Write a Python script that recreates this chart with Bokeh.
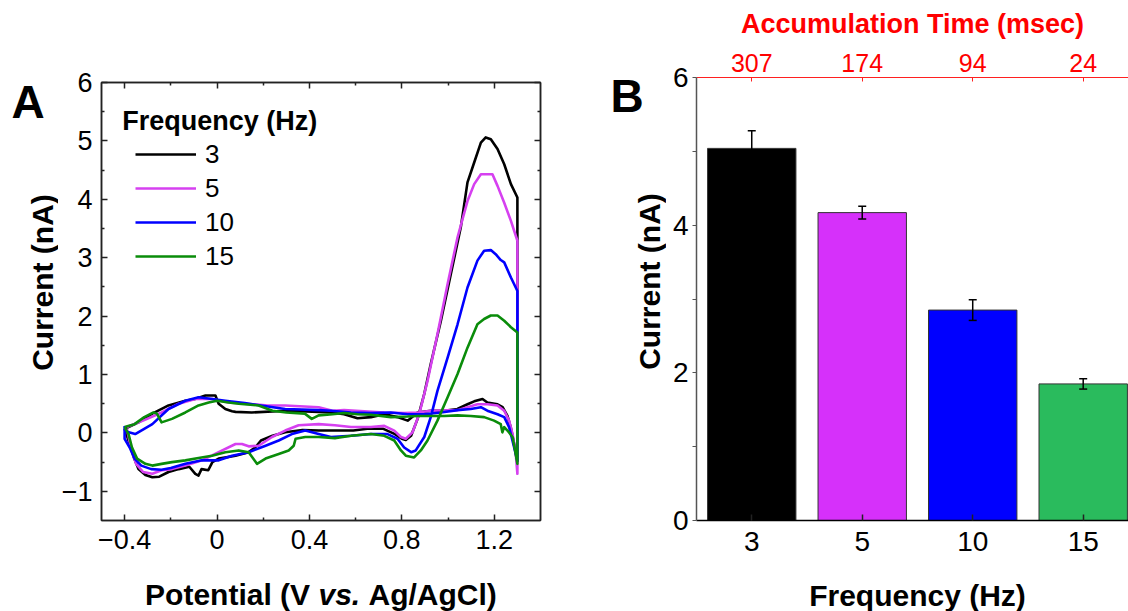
import math
from bokeh.plotting import figure
from bokeh.models import (Range1d, FixedTicker, LinearAxis, Legend, LegendItem,
                          ColumnDataSource, Whisker, TeeHead, CustomJSTickFormatter)
from bokeh.layouts import row, column
from bokeh.embed import file_html
from bokeh.resources import INLINE
from bokeh.core.properties import value

FONT = "Liberation Sans"

# ---------------- Panel A: cyclic voltammograms (potential V, current nA) ----------------
freq_labels = ["3", "5", "10", "15"]

black_v = [-0.40, -0.383, -0.36, -0.34, -0.31, -0.28, -0.25, -0.21, -0.166, -0.12,
           -0.094, -0.08, -0.067, -0.038, -0.02, 0.007, 0.08, 0.137, 0.165, 0.19,
           0.24, 0.295, 0.37, 0.44, 0.51, 0.59, 0.65, 0.72, 0.77, 0.80,
           0.817, 0.84, 0.868, 0.897, 0.925, 0.969, 1.012, 1.055, 1.084, 1.113,
           1.142, 1.163, 1.185, 1.214, 1.243, 1.272, 1.30, 1.30,
           1.286, 1.271, 1.257, 1.236, 1.214, 1.17, 1.149, 1.113, 1.084, 1.04,
           0.983, 0.925, 0.868, 0.825, 0.781, 0.724, 0.666, 0.608, 0.55, 0.493,
           0.44, 0.30, 0.15, 0.08, 0.065, 0.036, 0.007, -0.007, -0.05, -0.095,
           -0.137, -0.21, -0.28, -0.34, -0.383, -0.40]
black_i = [0.07, -0.13, -0.42, -0.62, -0.72, -0.76, -0.75, -0.67, -0.62, -0.58,
           -0.70, -0.73, -0.62, -0.64, -0.50, -0.44, -0.39, -0.33, -0.25, -0.13,
           -0.05, 0.01, 0.05, 0.04, 0.04, 0.04, 0.07, 0.07, -0.02, -0.10,
           -0.12, -0.05, 0.24, 0.67, 1.18, 1.92, 2.72, 3.52, 4.29, 4.63,
           4.97, 5.06, 5.03, 4.86, 4.60, 4.26, 4.03, -0.48,
           -0.19, 0.10, 0.29, 0.44, 0.49, 0.52, 0.58, 0.54, 0.49, 0.41,
           0.38, 0.38, 0.35, 0.21, 0.27, 0.32, 0.27, 0.25, 0.32, 0.35,
           0.36, 0.38, 0.35, 0.36, 0.37, 0.41, 0.50, 0.64, 0.64, 0.58,
           0.55, 0.47, 0.33, 0.18, 0.10, 0.07]

purple_v = [-0.39, -0.37, -0.35, -0.32, -0.28, -0.24, -0.195, -0.137, -0.065, 0.007,
            0.08, 0.108, 0.137, 0.18, 0.238, 0.295, 0.353, 0.44, 0.51, 0.58,
            0.666, 0.724, 0.767, 0.796, 0.817, 0.846, 0.875, 0.911, 0.954, 0.998,
            1.041, 1.084, 1.113, 1.142, 1.171, 1.192, 1.214, 1.243, 1.272, 1.30,
            1.30, 1.293, 1.279, 1.264, 1.243, 1.214, 1.171, 1.127, 1.084, 1.041,
            0.925, 0.868, 0.81, 0.724, 0.637, 0.55, 0.50, 0.44, 0.295, 0.22,
            0.12, 0.05, -0.02, -0.094, -0.166, -0.24, -0.32, -0.39]
purple_i = [0.07, -0.30, -0.53, -0.67, -0.70, -0.64, -0.62, -0.56, -0.47, -0.33,
            -0.19, -0.19, -0.23, -0.22, -0.07, 0.04, 0.13, 0.15, 0.13, 0.10,
            0.10, 0.12, 0.04, -0.07, -0.10, 0.01, 0.32, 0.89, 1.69, 2.55,
            3.35, 3.97, 4.26, 4.43, 4.43, 4.43, 4.23, 3.94, 3.63, 3.29,
            -0.70, -0.36, -0.02, 0.21, 0.38, 0.47, 0.49, 0.49, 0.44, 0.39,
            0.38, 0.35, 0.34, 0.35, 0.37, 0.39, 0.38, 0.44, 0.47, 0.47,
            0.50, 0.52, 0.58, 0.58, 0.50, 0.35, 0.21, 0.10]

blue_v = [-0.40, -0.40, -0.378, -0.357, -0.328, -0.285, -0.24, -0.20, -0.137, -0.065,
          0.007, 0.065, 0.137, 0.21, 0.267, 0.324, 0.382, 0.44, 0.493, 0.58,
          0.666, 0.738, 0.781, 0.81, 0.84, 0.86, 0.897, 0.925, 0.954, 0.998,
          1.041, 1.084, 1.127, 1.156, 1.185, 1.206, 1.228, 1.243, 1.272, 1.30,
          1.30, 1.286, 1.264, 1.243, 1.214, 1.17, 1.142, 1.098, 1.041, 0.969,
          0.897, 0.825, 0.752, 0.666, 0.58, 0.493, 0.44, 0.295, 0.19, 0.12,
          0.036, -0.02, -0.08, -0.137, -0.21, -0.28, -0.354, -0.39]
blue_i = [0.12, -0.10, -0.25, -0.44, -0.56, -0.62, -0.63, -0.60, -0.53, -0.47,
          -0.47, -0.39, -0.33, -0.22, -0.13, -0.02, 0.04, -0.02, -0.07, -0.05,
          -0.02, -0.02, -0.10, -0.25, -0.33, -0.30, -0.07, 0.27, 0.72, 1.29,
          1.86, 2.49, 2.95, 3.12, 3.13, 3.06, 2.96, 2.92, 2.66, 2.43,
          -0.48, -0.25, 0.10, 0.27, 0.32, 0.38, 0.44, 0.41, 0.39, 0.35,
          0.32, 0.32, 0.35, 0.34, 0.35, 0.38, 0.39, 0.41, 0.47, 0.51,
          0.55, 0.58, 0.61, 0.55, 0.41, 0.15, -0.02, 0.02]

green_v = [-0.40, -0.383, -0.368, -0.346, -0.31, -0.28, -0.24, -0.195, -0.137, -0.08,
           -0.022, 0.036, 0.094, 0.137, 0.173, 0.21, 0.267, 0.31, 0.332, 0.34,
           0.382, 0.44, 0.51, 0.58, 0.666, 0.724, 0.767, 0.796, 0.817, 0.853,
           0.882, 0.911, 0.954, 0.998, 1.041, 1.084, 1.127, 1.156, 1.185, 1.214,
           1.243, 1.272, 1.30, 1.30, 1.29, 1.279, 1.257, 1.243, 1.235, 1.228,
           1.199, 1.156, 1.098, 1.041, 0.983, 0.925, 0.868, 0.825, 0.752, 0.666,
           0.608, 0.55, 0.50, 0.44, 0.41, 0.38, 0.30, 0.24, 0.18, 0.094,
           0.05, 0.0, -0.036, -0.08, -0.137, -0.195, -0.24, -0.26, -0.275, -0.315,
           -0.357, -0.40]
green_i = [0.10, -0.02, -0.25, -0.44, -0.53, -0.56, -0.53, -0.50, -0.47, -0.43,
           -0.39, -0.33, -0.30, -0.33, -0.53, -0.44, -0.36, -0.30, -0.22, -0.10,
           -0.07, -0.07, -0.09, -0.05, -0.02, -0.05, -0.13, -0.30, -0.39, -0.42,
           -0.30, -0.13, 0.21, 0.61, 1.01, 1.46, 1.86, 1.95, 2.01, 2.01,
           1.92, 1.81, 1.72, -0.53, -0.30, -0.07, 0.04, 0.10, 0.01, 0.15,
           0.21, 0.27, 0.29, 0.30, 0.29, 0.29, 0.29, 0.28, 0.27, 0.31,
           0.32, 0.34, 0.32, 0.30, 0.24, 0.33, 0.35, 0.38, 0.47, 0.50,
           0.52, 0.55, 0.52, 0.47, 0.35, 0.24, 0.18, 0.33, 0.35, 0.27,
           0.15, 0.10]

line_colors = ["#000000", "#D640F0", "#0000FF", "#0A8C0A"]

# ---------------- Panel B: bar chart ----------------
bar_pos = [1, 2, 3, 4]
bar_freq_labels = ["3", "5", "10", "15"]
accum_labels = ["307", "174", "94", "24"]
bar_current = [5.04, 4.17, 2.85, 1.85]
bar_err = [0.24, 0.085, 0.14, 0.07]
bar_colors = ["#000000", "#D630FA", "#0000FF", "#2ABB5D"]

TOP_H = 566   # height of the plotting row
BOT_H = 45    # strip holding the x-axis titles


def blank(w, h):
    f = figure(width=w, height=h, x_range=Range1d(0, w), y_range=Range1d(0, h),
               output_backend="svg", toolbar_location=None, frame_align=False,
               x_axis_location=None, y_axis_location=None,
               min_border_left=0, min_border_right=0, min_border_top=0, min_border_bottom=0)
    f.grid.visible = False
    f.outline_line_color = None
    f.background_fill_color = "white"
    f.border_fill_color = "white"
    return f


def put_text(f, x, y, txt, size, style="bold", align="left", baseline="middle",
             angle=0.0, color="black"):
    f.text(x=[x], y=[y], text=[txt], text_font=value(FONT), text_font_style=value(style),
           text_font_size=value(size), text_align=value(align),
           text_baseline=value(baseline), angle=angle, text_color=color)


# ======================= Figure A =======================
p1 = figure(width=542, height=TOP_H, x_range=Range1d(-0.5, 1.4), y_range=Range1d(-1.5, 6),
            output_backend="svg", toolbar_location=None, frame_align=False,
            min_border_left=43, min_border_right=60, min_border_top=82, min_border_bottom=46)
p1.xgrid.visible = False
p1.ygrid.visible = False
p1.outline_line_color = "#222222"
p1.outline_line_width = 1.5
p1.background_fill_color = "white"
p1.border_fill_color = "white"

minus_fmt = CustomJSTickFormatter(code="return tick < 0 ? '\\u2212' + (-tick) : '' + tick;")

xt = [-0.4, 0.0, 0.4, 0.8, 1.2]
xm = [-0.2, 0.2, 0.6, 1.0]
yt = [-1, 0, 1, 2, 3, 4, 5, 6]
ym = [-0.5, 0.5, 1.5, 2.5, 3.5, 4.5, 5.5]


def style_a_axis(ax, ticks, minors, labels):
    ax.ticker = FixedTicker(ticks=ticks, minor_ticks=minors)
    ax.major_tick_in = 6
    ax.major_tick_out = 0
    ax.minor_tick_in = 3
    ax.minor_tick_out = 0
    ax.axis_line_color = "#222222"
    ax.axis_line_width = 1.5
    ax.major_tick_line_color = "#222222"
    ax.major_tick_line_width = 1.5
    ax.minor_tick_line_color = "#222222"
    ax.minor_tick_line_width = 1.5
    ax.formatter = minus_fmt
    if labels:
        ax.major_label_text_font = FONT
        ax.major_label_text_font_size = "27px"
        ax.major_label_text_color = "black"
        ax.major_label_standoff = 9
    else:
        ax.major_label_text_font_size = "2px"
        ax.major_label_text_color = None
        ax.major_label_standoff = 0


style_a_axis(p1.xaxis[0], xt, xm, True)
style_a_axis(p1.yaxis[0], yt, ym, True)

top_a = LinearAxis()
style_a_axis(top_a, xt, xm, False)
p1.add_layout(top_a, "above")
right_a = LinearAxis()
style_a_axis(right_a, yt, ym, False)
p1.add_layout(right_a, "right")

renderers = []
for vv, ii, c in zip([black_v, purple_v, blue_v, green_v],
                     [black_i, purple_i, blue_i, green_i], line_colors):
    r = p1.line(vv, ii, line_color=c, line_width=2.6, line_join="round")
    renderers.append(r)

items = [LegendItem(label=lab, renderers=[r]) for lab, r in zip(freq_labels, renderers)]
leg = Legend(items=items, location=(34, 247), glyph_width=61, glyph_height=34,
             label_height=34, spacing=0, padding=0, margin=0, label_standoff=9,
             label_text_font=FONT, label_text_font_size="26px", label_text_color="black",
             border_line_alpha=0, background_fill_alpha=0)
p1.add_layout(leg)
# legend heading, inside the frame (data coordinates)
p1.text(x=[-0.41], y=[5.345], text=["Frequency (Hz)"], text_font=value(FONT),
        text_font_style=value("bold"), text_font_size=value("27px"),
        text_baseline=value("middle"), text_color="black")

# left strip of panel A: panel letter and y-axis title
stripA = blank(58, TOP_H)
put_text(stripA, 11, TOP_H - 101.5, "A", "46px")
put_text(stripA, 42, TOP_H - 282, "Current (nA)", "30px", align="center",
         angle=math.pi / 2)

# ======================= Figure B =======================
p2 = figure(width=462, height=TOP_H, x_range=Range1d(0.5, 4.41), y_range=Range1d(0, 6),
            output_backend="svg", toolbar_location=None, frame_align=False,
            min_border_left=30, min_border_right=0, min_border_top=77, min_border_bottom=46)
p2.xgrid.visible = False
p2.ygrid.visible = False
p2.outline_line_color = None
p2.background_fill_color = "white"
p2.border_fill_color = "white"

src = ColumnDataSource(dict(
    x=bar_pos, top=bar_current, color=bar_colors,
    upper=[c + e for c, e in zip(bar_current, bar_err)],
    lower=[c - e for c, e in zip(bar_current, bar_err)],
))
p2.vbar(x="x", top="top", bottom=0, width=0.8, fill_color="color",
        line_color="#333333", line_width=1, source=src)
wh = Whisker(base="x", upper="upper", lower="lower", source=src, level="overlay",
             line_color="black", line_width=1.5,
             upper_head=TeeHead(size=8, line_color="black", line_width=1.5),
             lower_head=TeeHead(size=8, line_color="black", line_width=1.5))
p2.add_layout(wh)

xb = p2.xaxis[0]
xb.ticker = FixedTicker(ticks=bar_pos, minor_ticks=[])
xb.major_label_overrides = {p: lab for p, lab in zip(bar_pos, bar_freq_labels)}
xb.major_tick_in = 6
xb.major_tick_out = 0
xb.minor_tick_in = 0
xb.minor_tick_out = 0
xb.axis_line_color = "black"
xb.axis_line_width = 1.5
xb.major_tick_line_color = "#222222"
xb.major_tick_line_width = 1.5
xb.major_label_text_font = FONT
xb.major_label_text_font_size = "28px"
xb.major_label_text_color = "black"
xb.major_label_standoff = 11

yb = p2.yaxis[0]
yb.ticker = FixedTicker(ticks=[0, 2, 4, 6], minor_ticks=[1, 3, 5])
yb.major_tick_in = 0
yb.major_tick_out = 4
yb.minor_tick_in = 0
yb.minor_tick_out = 4
yb.axis_line_color = "#555555"
yb.axis_line_width = 1.5
yb.major_tick_line_color = "#555555"
yb.minor_tick_line_color = "#555555"
yb.major_label_text_font = FONT
yb.major_label_text_font_size = "28px"
yb.major_label_text_color = "black"
yb.major_label_standoff = 4

top_b = LinearAxis(ticker=FixedTicker(ticks=bar_pos, minor_ticks=[]))
top_b.major_label_overrides = {p: lab for p, lab in zip(bar_pos, accum_labels)}
top_b.major_tick_in = 4
top_b.major_tick_out = 0
top_b.minor_tick_in = 0
top_b.minor_tick_out = 0
top_b.axis_line_color = "#FF2020"
top_b.axis_line_width = 1.2
top_b.major_tick_line_color = "#FF2020"
top_b.major_label_text_font = FONT
top_b.major_label_text_font_size = "25px"
top_b.major_label_text_color = "#FF0000"
top_b.major_label_standoff = 6
top_b.axis_label = "Accumulation Time (msec)"
top_b.axis_label_text_font = FONT
top_b.axis_label_text_font_style = "bold"
top_b.axis_label_text_font_size = "27px"
top_b.axis_label_text_color = "#FF0000"
top_b.axis_label_standoff = 12
p2.add_layout(top_b, "above")

# left strip of panel B: panel letter and y-axis title
stripB = blank(66, TOP_H)
put_text(stripB, 10, TOP_H - 95, "B", "46px")
put_text(stripB, 49, TOP_H - 281, "Current (nA)", "30px", align="center",
         angle=math.pi / 2)

# bottom strip: x-axis titles of both panels
bottom = blank(1128, BOT_H)
put_text(bottom, 144.6, 611 - 594, "Potential (V", "30px")
put_text(bottom, 318.0, 611 - 594, "vs.", "30px", style="bold italic")
put_text(bottom, 368.0, 611 - 594, "Ag/AgCl)", "30px")
put_text(bottom, 917, 611 - 595, "Frequency (Hz)", "30px", align="center")

layout = column(row(stripA, p1, stripB, p2), bottom)
open("out.html", "w").write(file_html(layout, INLINE))
